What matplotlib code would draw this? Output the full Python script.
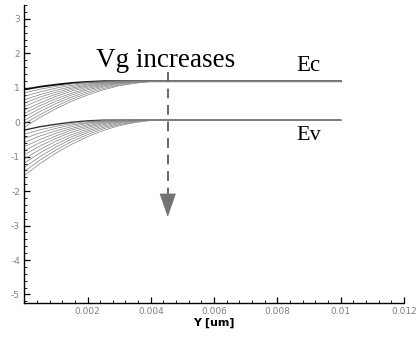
import numpy as np
import matplotlib
matplotlib.use("Agg")
import matplotlib.pyplot as plt
from matplotlib.ticker import MultipleLocator

# positions along Y [um]
y_um = [0, 0.0005, 0.001, 0.0015, 0.002, 0.0025, 0.003, 0.0035, 0.004, 0.0045, 0.01]

# conduction band edge, one row per gate voltage
ec = [
    [0.95, 1.03, 1.09, 1.14, 1.17, 1.19, 1.19, 1.19, 1.19, 1.19, 1.19],
    [0.85, 0.96, 1.04, 1.11, 1.16, 1.18, 1.19, 1.19, 1.19, 1.19, 1.19],
    [0.75, 0.88, 0.99, 1.07, 1.14, 1.17, 1.19, 1.19, 1.19, 1.19, 1.19],
    [0.65, 0.80, 0.93, 1.03, 1.11, 1.16, 1.19, 1.19, 1.19, 1.19, 1.19],
    [0.55, 0.73, 0.87, 0.99, 1.08, 1.15, 1.18, 1.19, 1.19, 1.19, 1.19],
    [0.45, 0.65, 0.81, 0.95, 1.05, 1.13, 1.17, 1.19, 1.19, 1.19, 1.19],
    [0.35, 0.56, 0.75, 0.90, 1.02, 1.10, 1.16, 1.19, 1.19, 1.19, 1.19],
    [0.25, 0.48, 0.68, 0.84, 0.98, 1.08, 1.15, 1.18, 1.19, 1.19, 1.19],
    [0.15, 0.40, 0.61, 0.79, 0.94, 1.05, 1.13, 1.18, 1.19, 1.19, 1.19],
    [0.05, 0.31, 0.54, 0.73, 0.89, 1.02, 1.11, 1.17, 1.19, 1.19, 1.19],
    [-0.05, 0.22, 0.46, 0.67, 0.84, 0.98, 1.08, 1.15, 1.19, 1.19, 1.19],
    [-0.15, 0.14, 0.39, 0.61, 0.79, 0.94, 1.06, 1.13, 1.18, 1.19, 1.19],
]

# valence band edge
ev = [
    [-0.23, -0.13, -0.06, 0.00, 0.04, 0.06, 0.06, 0.06, 0.06, 0.06, 0.06],
    [-0.35, -0.22, -0.12, -0.04, 0.02, 0.05, 0.06, 0.06, 0.06, 0.06, 0.06],
    [-0.47, -0.31, -0.18, -0.08, -0.01, 0.04, 0.06, 0.06, 0.06, 0.06, 0.06],
    [-0.59, -0.40, -0.25, -0.13, -0.03, 0.03, 0.06, 0.06, 0.06, 0.06, 0.06],
    [-0.71, -0.50, -0.32, -0.18, -0.07, 0.01, 0.05, 0.06, 0.06, 0.06, 0.06],
    [-0.83, -0.59, -0.40, -0.23, -0.11, -0.01, 0.04, 0.06, 0.06, 0.06, 0.06],
    [-0.95, -0.69, -0.47, -0.29, -0.15, -0.04, 0.03, 0.06, 0.06, 0.06, 0.06],
    [-1.07, -0.79, -0.55, -0.36, -0.20, -0.07, 0.01, 0.05, 0.06, 0.06, 0.06],
    [-1.19, -0.89, -0.64, -0.42, -0.25, -0.11, -0.01, 0.04, 0.06, 0.06, 0.06],
    [-1.31, -1.00, -0.72, -0.49, -0.30, -0.15, -0.04, 0.03, 0.06, 0.06, 0.06],
    [-1.43, -1.10, -0.81, -0.56, -0.36, -0.19, -0.07, 0.01, 0.06, 0.06, 0.06],
    [-1.55, -1.20, -0.90, -0.64, -0.42, -0.24, -0.10, -0.01, 0.05, 0.06, 0.06],
]

# arrow: x, top, head start, tip
arrow_x = 0.004535
arrow_top = 1.45
arrow_head = -2.25
arrow_tip = -2.75

fig = plt.figure(figsize=(4.17, 3.39), dpi=100)
ax = fig.add_axes([0.058, 0.106, 0.911, 0.879])

for i, row in enumerate(ec):
    ax.plot(y_um, row, color='0.05' if i == 0 else '0.5', lw=1.3 if i == 0 else 0.5)
for i, row in enumerate(ev):
    ax.plot(y_um, row, color='0.2' if i == 0 else '0.5', lw=1.0 if i == 0 else 0.5)

ax.set_xlim(0, 0.012)
ax.set_ylim(-5.25, 3.4)

for s in ['top', 'right']:
    ax.spines[s].set_visible(False)
for s in ['left', 'bottom']:
    ax.spines[s].set_linewidth(1.0)

ax.xaxis.set_minor_locator(MultipleLocator(0.0004))
ax.yaxis.set_minor_locator(MultipleLocator(0.2))
ax.set_xticks([0.002, 0.004, 0.006, 0.008, 0.01, 0.012])
ax.set_xticklabels(['0.002', '0.004', '0.006', '0.008', '0.01', '0.012'])
ax.set_yticks([-5, -4, -3, -2, -1, 0, 1, 2, 3])
ax.set_yticklabels(['-5', '-4', '-3', '-2', '-1', '0', '1', '2', '3'])
ax.tick_params(which='major', direction='in', length=4, width=0.9, labelsize=6.5,
               labelcolor='0.5', pad=3)
ax.tick_params(which='minor', direction='in', length=2, width=0.6)

ax.set_xlabel('Y [um]', fontsize=8, fontweight='bold', labelpad=1)

serif = 'Liberation Serif'
ax.text(0.00448, 1.59, 'Vg increases', fontsize=19.5, family=serif, ha='center', va='baseline')
ax.text(0.00858, 1.49, 'Ec', fontsize=16.5, family=serif, ha='left', va='baseline')
ax.text(0.00861, -0.52, 'Ev', fontsize=16, family=serif, ha='left', va='baseline')

# dashed shaft, then a solid filled head
ax.plot([arrow_x, arrow_x], [arrow_top, arrow_head + 0.05], color='0.4', lw=1.4,
        ls=(0, (5, 3.5)))
ax.annotate('', xy=(arrow_x, arrow_tip), xytext=(arrow_x, arrow_head),
            arrowprops=dict(arrowstyle='-|>,head_length=1.2,head_width=0.42', color='0.45',
                            lw=0.6, mutation_scale=13, shrinkA=0, shrinkB=0))

fig.savefig('out.png', dpi=100)
